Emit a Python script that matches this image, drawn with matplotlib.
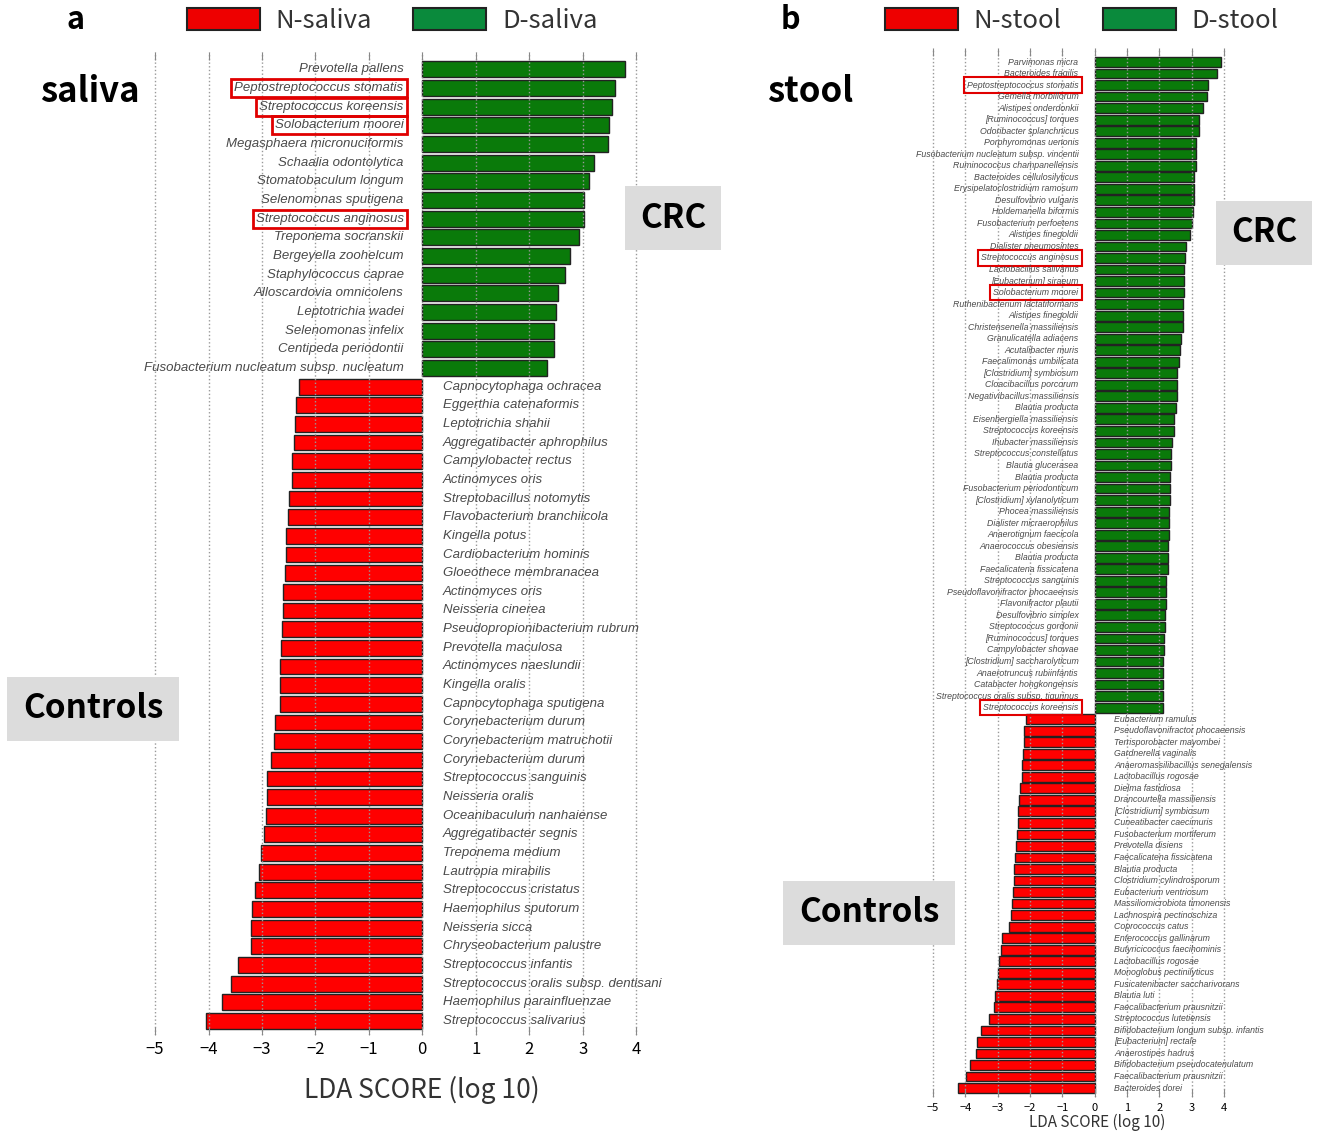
import numpy as np
import matplotlib
matplotlib.use("Agg")
import matplotlib.pyplot as plt
from matplotlib.patches import Patch

# ---- saliva (panel a) ----
saliva_crc = ["Prevotella pallens", "Peptostreptococcus stomatis", "Streptococcus koreensis",
              "Solobacterium moorei", "Megasphaera micronuciformis", "Schaalia odontolytica",
              "Stomatobaculum longum", "Selenomonas sputigena", "Streptococcus anginosus",
              "Treponema socranskii", "Bergeyella zoohelcum", "Staphylococcus caprae",
              "Alloscardovia omnicolens", "Leptotrichia wadei", "Selenomonas infelix",
              "Centipeda periodontii", "Fusobacterium nucleatum subsp. nucleatum"]
saliva_crc_lda = [3.80, 3.60, 3.55, 3.50, 3.47, 3.21, 3.12, 3.03, 3.02, 2.93, 2.76, 2.67,
                  2.54, 2.50, 2.47, 2.46, 2.34]
saliva_ctl = ["Capnocytophaga ochracea", "Eggerthia catenaformis", "Leptotrichia shahii",
              "Aggregatibacter aphrophilus", "Campylobacter rectus", "Actinomyces oris",
              "Streptobacillus notomytis", "Flavobacterium branchiicola", "Kingella potus",
              "Cardiobacterium hominis", "Gloeothece membranacea", "Actinomyces oris",
              "Neisseria cinerea", "Pseudopropionibacterium rubrum", "Prevotella maculosa",
              "Actinomyces naeslundii", "Kingella oralis", "Capnocytophaga sputigena",
              "Corynebacterium durum", "Corynebacterium matruchotii", "Corynebacterium durum",
              "Streptococcus sanguinis", "Neisseria oralis", "Oceanibaculum nanhaiense",
              "Aggregatibacter segnis", "Treponema medium", "Lautropia mirabilis",
              "Streptococcus cristatus", "Haemophilus sputorum", "Neisseria sicca",
              "Chryseobacterium palustre", "Streptococcus infantis",
              "Streptococcus oralis subsp. dentisani", "Haemophilus parainfluenzae",
              "Streptococcus salivarius"]
saliva_ctl_lda = [-2.30, -2.37, -2.38, -2.40, -2.44, -2.44, -2.49, -2.52, -2.55, -2.55,
                  -2.57, -2.60, -2.61, -2.63, -2.65, -2.66, -2.66, -2.67, -2.75, -2.77,
                  -2.84, -2.90, -2.91, -2.92, -2.96, -3.02, -3.05, -3.13, -3.18, -3.20,
                  -3.21, -3.44, -3.58, -3.75, -4.05]
saliva_boxed = [1, 2, 3, 8]

# ---- stool (panel b) ----
stool_crc = ["Parvimonas micra", "Bacteroides fragilis", "Peptostreptococcus stomatis",
             "Gemella morbillorum", "Alistipes onderdonkii", "[Ruminococcus] torques",
             "Odoribacter splanchnicus", "Porphyromonas uenonis",
             "Fusobacterium nucleatum subsp. vincentii", "Ruminococcus champanellensis",
             "Bacteroides cellulosilyticus", "Erysipelatoclostridium ramosum",
             "Desulfovibrio vulgaris", "Holdemanella biformis", "Fusobacterium perfoetens",
             "Alistipes finegoldii", "Dialister pneumosintes", "Streptococcus anginosus",
             "Lactobacillus salivarius", "[Eubacterium] siraeum", "Solobacterium moorei",
             "Ruthenibacterium lactatiformans", "Alistipes finegoldii",
             "Christensenella massiliensis", "Granulicatella adiacens", "Acutalibacter muris",
             "Faecalimonas umbilicata", "[Clostridium] symbiosum", "Cloacibacillus porcorum",
             "Negativibacillus massiliensis", "Blautia producta", "Eisenbergiella massiliensis",
             "Streptococcus koreensis", "Ihubacter massiliensis", "Streptococcus constellatus",
             "Blautia glucerasea", "Blautia producta", "Fusobacterium periodonticum",
             "[Clostridium] xylanolyticum", "Phocea massiliensis", "Dialister micraerophilus",
             "Anaerotignum faecicola", "Anaerococcus obesiensis", "Blautia producta",
             "Faecalicatena fissicatena", "Streptococcus sanguinis",
             "Pseudoflavonifractor phocaeensis", "Flavonifractor plautii",
             "Desulfovibrio simplex", "Streptococcus gordonii", "[Ruminococcus] torques",
             "Campylobacter showae", "[Clostridium] saccharolyticum",
             "Anaerotruncus rubiinfantis", "Catabacter hongkongensis",
             "Streptococcus oralis subsp. tigurinus", "Streptococcus koreensis"]
stool_crc_lda = [3.90, 3.78, 3.52, 3.47, 3.36, 3.24, 3.22, 3.15, 3.15, 3.15, 3.08, 3.07,
                 3.06, 3.04, 3.01, 2.94, 2.84, 2.80, 2.77, 2.77, 2.75, 2.73, 2.73, 2.73,
                 2.66, 2.65, 2.60, 2.56, 2.54, 2.54, 2.52, 2.45, 2.45, 2.38, 2.37, 2.35,
                 2.34, 2.34, 2.33, 2.30, 2.30, 2.29, 2.28, 2.28, 2.28, 2.22, 2.22, 2.22,
                 2.18, 2.17, 2.15, 2.15, 2.12, 2.12, 2.10, 2.10, 2.10]
stool_ctl = ["Eubacterium ramulus", "Pseudoflavonifractor phocaeensis",
             "Terrisporobacter mayombei", "Gardnerella vaginalis",
             "Anaeromassilibacillus senegalensis", "Lactobacillus rogosae",
             "Dielma fastidiosa", "Drancourtella massiliensis", "[Clostridium] symbiosum",
             "Cuneatibacter caecimuris", "Fusobacterium mortiferum", "Prevotella disiens",
             "Faecalicatena fissicatena", "Blautia producta", "Clostridium cylindrosporum",
             "Eubacterium ventriosum", "Massiliomicrobiota timonensis",
             "Lachnospira pectinoschiza", "Coprococcus catus", "Enterococcus gallinarum",
             "Butyricicoccus faecihominis", "Lactobacillus rogosae",
             "Monoglobus pectinilyticus", "Fusicatenibacter saccharivorans", "Blautia luti",
             "Faecalibacterium prausnitzii", "Streptococcus lutetiensis",
             "Bifidobacterium longum subsp. infantis", "[Eubacterium] rectale",
             "Anaerostipes hadrus", "Bifidobacterium pseudocatenulatum",
             "Faecalibacterium prausnitzii", "Bacteroides dorei"]
stool_ctl_lda = [-2.11, -2.20, -2.20, -2.22, -2.26, -2.26, -2.30, -2.33, -2.37, -2.37,
                 -2.39, -2.43, -2.45, -2.48, -2.48, -2.51, -2.55, -2.58, -2.65, -2.88,
                 -2.90, -2.95, -2.99, -3.02, -3.09, -3.10, -3.26, -3.51, -3.65, -3.66,
                 -3.87, -3.99, -4.24]
stool_boxed = [2, 17, 20, 56]

ticks = [-5, -4, -3, -2, -1, 0, 1, 2, 3, 4]
RED = "#ff0000"
GREEN = "#0a7a0a"
TXT = "#4a4a4a"
SP = ["Liberation Sans", "DejaVu Sans"]
HEAD = ["Noto Sans CJK JP", "DejaVu Sans"]


def lefse_panel(ax, crc, crc_lda, ctl, ctl_lda, boxed, fs, off_g, off_r, tick_fs,
                xlab_fs, box_lw):
    names = crc + ctl
    vals = np.array(crc_lda + ctl_lda)
    y = np.arange(len(names))
    cols = [GREEN] * len(crc) + [RED] * len(ctl)
    ax.barh(y, vals, height=0.85, color=cols, edgecolor="#222222", linewidth=1.0, zorder=2)
    for i, (n, v) in enumerate(zip(names, vals)):
        if v > 0:
            t = ax.text(-off_g, i, n, ha="right", va="center", fontsize=fs,
                        style="italic", color=TXT, family=SP)
        else:
            t = ax.text(off_r, i, n, ha="left", va="center", fontsize=fs,
                        style="italic", color=TXT, family=SP)
        if i in boxed:
            t.set_bbox(dict(facecolor="none", edgecolor="#e00000", linewidth=box_lw,
                            pad=2.2))
    ax.set_xlim(-5.3, 4.3)
    ax.set_ylim(len(names) - 1 + 0.75, -0.9)
    ax.set_xticks(ticks)
    ax.set_xticklabels(["\u22125", "\u22124", "\u22123", "\u22122", "\u22121",
                        "0", "1", "2", "3", "4"], family=HEAD, fontsize=tick_fs)
    ax.set_yticks([])
    for s in ax.spines.values():
        s.set_visible(False)
    ax.tick_params(axis="x", top=True, direction="in", length=6, color="#888888",
                   pad=4)
    ax.grid(axis="x", linestyle=":", color="#999999", linewidth=1.0)
    ax.set_axisbelow(False)
    ax.set_xlabel("LDA SCORE (log 10)", family=HEAD, fontsize=xlab_fs, color="#333333")


fig = plt.figure(figsize=(13.19, 11.36), dpi=100)

ax1 = fig.add_axes([0.1054, 0.0889, 0.389, 0.865])
lefse_panel(ax1, saliva_crc, saliva_crc_lda, saliva_ctl, saliva_ctl_lda, saliva_boxed,
            9.5, 0.35, 0.38, 12, 19, 2.0)
ax1.set_ylim(51.75, -0.91)
ax1.xaxis.set_label_coords(0.552, -0.042)

ax2 = fig.add_axes([0.700, 0.0343, 0.2353, 0.9234])
lefse_panel(ax2, stool_crc, stool_crc_lda, stool_ctl, stool_ctl_lda, stool_boxed,
            6.3, 0.5, 0.6, 8, 11, 1.5)
ax2.set_ylim(89.78, -1.21)
ax2.xaxis.set_label_coords(0.56, -0.016)

# panel letters and headings
fig.text(75 / 1319, 1 - 20 / 1136, "a", fontsize=22, fontweight="bold", family=HEAD,
         ha="center", va="center")
fig.text(790 / 1319, 1 - 20 / 1136, "b", fontsize=22, fontweight="bold", family=HEAD,
         ha="center", va="center")
fig.text(40 / 1319, 1 - 92 / 1136, "saliva", fontsize=25, fontweight="bold", family=HEAD,
         ha="left", va="center")
fig.text(767 / 1319, 1 - 92 / 1136, "stool", fontsize=25, fontweight="bold", family=HEAD,
         ha="left", va="center")

gray = dict(facecolor="#dcdcdc", edgecolor="none", pad=11)
fig.text(673 / 1319, 1 - 218 / 1136, "CRC", fontsize=24, fontweight="bold", family=HEAD,
         ha="center", va="center", bbox=gray)
fig.text(93 / 1319, 1 - 709 / 1136, "Controls", fontsize=24, fontweight="bold",
         family=HEAD, ha="center", va="center", bbox=gray)
fig.text(1264 / 1319, 1 - 233 / 1136, "CRC", fontsize=24, fontweight="bold", family=HEAD,
         ha="center", va="center", bbox=gray)
fig.text(869 / 1319, 1 - 913 / 1136, "Controls", fontsize=24, fontweight="bold",
         family=HEAD, ha="center", va="center", bbox=gray)

# legends
for x0, lab in [(187, "saliva"), (885, "stool")]:
    h = [Patch(facecolor="#ee0000", edgecolor="#222222", linewidth=1.5),
         Patch(facecolor="#0a8a3c", edgecolor="#222222", linewidth=1.5)]
    fig.legend(h, ["N-" + lab, "D-" + lab], loc="center left",
               bbox_to_anchor=(x0 / 1319, 1 - 21 / 1136), ncol=2, frameon=False,
               prop={"family": HEAD, "size": 18.5}, handlelength=2.85, handleheight=0.9,
               handletextpad=0.6, columnspacing=1.6, borderpad=0, borderaxespad=0,
               labelcolor="#333333")

fig.savefig("out.png", dpi=100)
